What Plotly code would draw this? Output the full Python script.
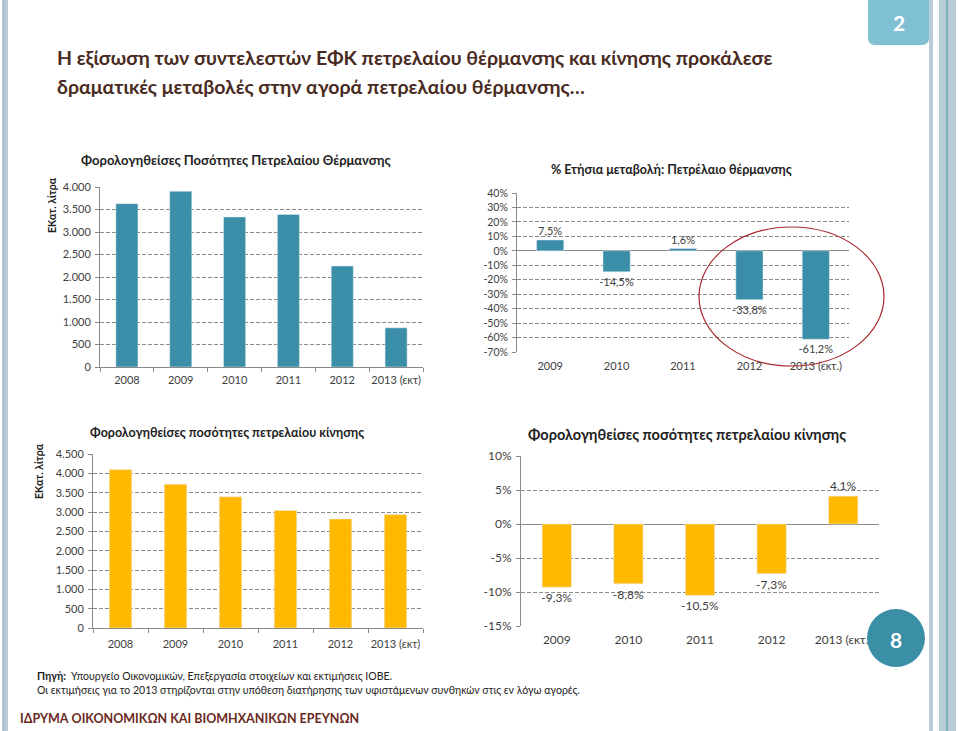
import plotly.graph_objects as go

W, H = 959, 731

# ---------------- data ----------------
years_full = ["2008", "2009", "2010", "2011", "2012", "2013 (εκτ)"]
years_chg = ["2009", "2010", "2011", "2012", "2013 (εκτ.)"]
heating_vol = [3630, 3905, 3335, 3390, 2245, 870]
heating_chg = [7.5, -14.5, 1.6, -33.8, -61.2]
diesel_vol = [4100, 3720, 3395, 3040, 2820, 2935]
diesel_chg = [-9.3, -8.8, -10.5, -7.3, 4.1]

vol1_ticks = [0, 500, 1000, 1500, 2000, 2500, 3000, 3500, 4000]
vol3_ticks = [0, 500, 1000, 1500, 2000, 2500, 3000, 3500, 4000, 4500]
chg2_ticks = [40, 30, 20, 10, 0, -10, -20, -30, -40, -50, -60, -70]
chg4_ticks = [10, 5, 0, -5, -10, -15]

TEAL = "#3b8ea7"
YELLOW = "#ffb900"
FONT = "Lato, 'Noto Sans', sans-serif"
TXT = "#404040"
GRID = "#8a8a8a"


def px(x):
    return x / W


def py(y):
    return 1 - y / H


def thousands(v):
    return f"{v:,}".replace(",", ".")


def pct(v):
    return f"{v:.1f}".replace(".", ",") + "%"


fig = go.Figure()

fig.add_trace(go.Bar(x=years_full, y=heating_vol, marker_color=TEAL,
                     xaxis="x", yaxis="y"))
fig.add_trace(go.Bar(x=years_chg, y=heating_chg, marker_color=TEAL,
                     xaxis="x2", yaxis="y2",
                     text=[pct(v) for v in heating_chg], textposition="outside",
                     constraintext="none", cliponaxis=False,
                     textfont=dict(size=11, color=TXT, family=FONT)))
fig.add_trace(go.Bar(x=years_full, y=diesel_vol, marker_color=YELLOW,
                     xaxis="x3", yaxis="y3"))
fig.add_trace(go.Bar(x=years_chg, y=diesel_chg, marker_color=YELLOW,
                     xaxis="x4", yaxis="y4",
                     text=[pct(v) for v in diesel_chg], textposition="outside",
                     constraintext="none", cliponaxis=False,
                     textfont=dict(size=12, color=TXT, family=FONT)))


def xax(domain, anchor, size, standoff, showline=True):
    return dict(domain=[px(domain[0]), px(domain[1])], anchor=anchor,
                type="category", showline=showline, linecolor=GRID, linewidth=1,
                ticks="outside" if showline else "", tickson="boundaries",
                ticklen=4, tickcolor=GRID, showgrid=False, fixedrange=True,
                tickangle=0, automargin=False, ticklabelstandoff=standoff,
                tickfont=dict(size=size, color=TXT, family=FONT))


def yax(domain, anchor, rng, tickvals, ticktext, size, zeroline=False):
    return dict(domain=[py(domain[1]), py(domain[0])], anchor=anchor,
                range=rng, tickvals=tickvals, ticktext=ticktext,
                showline=True, linecolor=GRID, linewidth=1,
                ticks="outside", ticklen=4, tickcolor=GRID,
                showgrid=True, gridcolor=GRID, griddash="4px,2px", gridwidth=1,
                zeroline=zeroline, zerolinecolor=GRID, zerolinewidth=1,
                automargin=False, ticklabelstandoff=2,
                tickfont=dict(size=size, color=TXT, family=FONT), fixedrange=True)


layout = dict(
    width=W, height=H, margin=dict(l=0, r=0, t=0, b=0),
    paper_bgcolor="white", plot_bgcolor="white", showlegend=False,
    bargap=0.59, font=dict(family=FONT, color=TXT),
    xaxis=xax((100, 423), "y", 11, 3),
    yaxis=yax((187, 367), "x", [0, 4000], vol1_ticks,
              [thousands(v) for v in vol1_ticks], 11),
    xaxis2=xax((517, 849), "y2", 11, 6, showline=False),
    yaxis2=yax((193, 352), "x2", [-70, 40], chg2_ticks,
               [f"{v}%" for v in chg2_ticks], 10.5, zeroline=True),
    xaxis3=xax((93, 423), "y3", 11, 6),
    yaxis3=yax((454, 628), "x3", [0, 4500], vol3_ticks,
               [thousands(v) for v in vol3_ticks], 11),
    xaxis4=xax((521, 879), "y4", 12, 5, showline=False),
    yaxis4=yax((456, 626), "x4", [-15, 10], chg4_ticks,
               [f"{v}%" for v in chg4_ticks], 12, zeroline=True),
)
fig.update_layout(**layout)

ann = []


def text(x, y, s, size, color=TXT, xanchor="center", bold=False, angle=0):
    ann.append(dict(x=px(x), y=py(y), xref="paper", yref="paper", text=(f"<b>{s}</b>" if bold else s),
                    showarrow=False, xanchor=xanchor, yanchor="middle", textangle=angle,
                    font=dict(size=size, color=color, family=FONT)))


# slide title
TITLE_C = "#4a2b22"
text(55, 58, "Η εξίσωση των συντελεστών ΕΦΚ πετρελαίου θέρμανσης και κίνησης προκάλεσε", 19.5, TITLE_C, "left", True)
text(55, 87, "δραματικές μεταβολές στην αγορά πετρελαίου θέρμανσης…", 19.5, TITLE_C, "left", True)

# chart titles
text(236, 160, "Φορολογηθείσες Ποσότητες Πετρελαίου Θέρμανσης", 13, "#222222", bold=True)
text(671, 170, "% Ετήσια μεταβολή: Πετρέλαιο θέρμανσης", 12.5, "#222222", bold=True)
text(227, 432, "Φορολογηθείσες ποσότητες πετρελαίου κίνησης", 12.5, "#222222", bold=True)
text(687, 434, "Φορολογηθείσες ποσότητες πετρελαίου κίνησης", 14.5, "#222222", bold=True)

# y axis titles
text(52, 205, "ΕΚατ. λίτρα", 10.5, "#222222", bold=True, angle=-90)
text(39, 471, "ΕΚατ. λίτρα", 10.5, "#222222", bold=True, angle=-90)

# footer
text(35, 676, "<b>Πηγή:</b>  Υπουργείο Οικονομικών, Επεξεργασία στοιχείων και εκτιμήσεις ΙΟΒΕ.", 10.5, "#222222", "left")
text(35, 690, "Οι εκτιμήσεις για το 2013 στηρίζονται στην υπόθεση διατήρησης των υφιστάμενων συνθηκών στις εν λόγω αγορές.", 10.5, "#222222", "left")
text(18, 718, "ΙΔΡΥΜΑ ΟΙΚΟΝΟΜΙΚΩΝ ΚΑΙ ΒΙΟΜΗΧΑΝΙΚΩΝ ΕΡΕΥΝΩΝ", 12.5, "#6a2a1e", "left", True)

# page numbers
text(899, 22, "2", 21, "white", bold=True)
text(896, 639, "8", 21, "white", bold=True)

fig.update_layout(annotations=ann)

BORDER = "#b7ccd5"
shapes = [
    # left border
    dict(type="rect", x0=px(2), x1=px(8), y0=0, y1=1, fillcolor=BORDER, line_width=0, layer="below"),
    dict(type="line", x0=px(4), x1=px(4), y0=0, y1=1, line=dict(color="#a3bcc8", width=1), layer="below"),
    # right border
    dict(type="rect", x0=px(929), x1=px(933), y0=0, y1=1, fillcolor=BORDER, line_width=0, layer="below"),
    dict(type="rect", x0=px(939), x1=px(956), y0=0, y1=1, fillcolor=BORDER, line_width=0, layer="below"),
    dict(type="line", x0=px(947), x1=px(947), y0=0, y1=1, line=dict(color="#3f9aa8", width=1), layer="below"),
    # page number box (rounded bottom)
    dict(type="path",
         path=(f"M {px(868)},{py(0)} L {px(929)},{py(0)} L {px(929)},{py(38)} "
               f"Q {px(929)},{py(45)} {px(922)},{py(45)} L {px(875)},{py(45)} "
               f"Q {px(868)},{py(45)} {px(868)},{py(38)} Z"),
         fillcolor="#7fc1d2", line_width=0, layer="below"),
    # red ellipse
    dict(type="circle", x0=px(699), x1=px(884), y0=py(366), y1=py(227),
         line=dict(color="#a8262c", width=1.2), layer="above"),
    # page circle
    dict(type="circle", x0=px(867), x1=px(925), y0=py(667), y1=py(609),
         fillcolor="#3a8ea6", line_width=0, layer="above"),
]
for s in shapes:
    s.setdefault("xref", "paper")
    s.setdefault("yref", "paper")
fig.update_layout(shapes=shapes)

fig.write_html("out.html", config={"displayModeBar": False},
               post_script="document.body.style.margin='0px';document.body.style.overflow='hidden';")
